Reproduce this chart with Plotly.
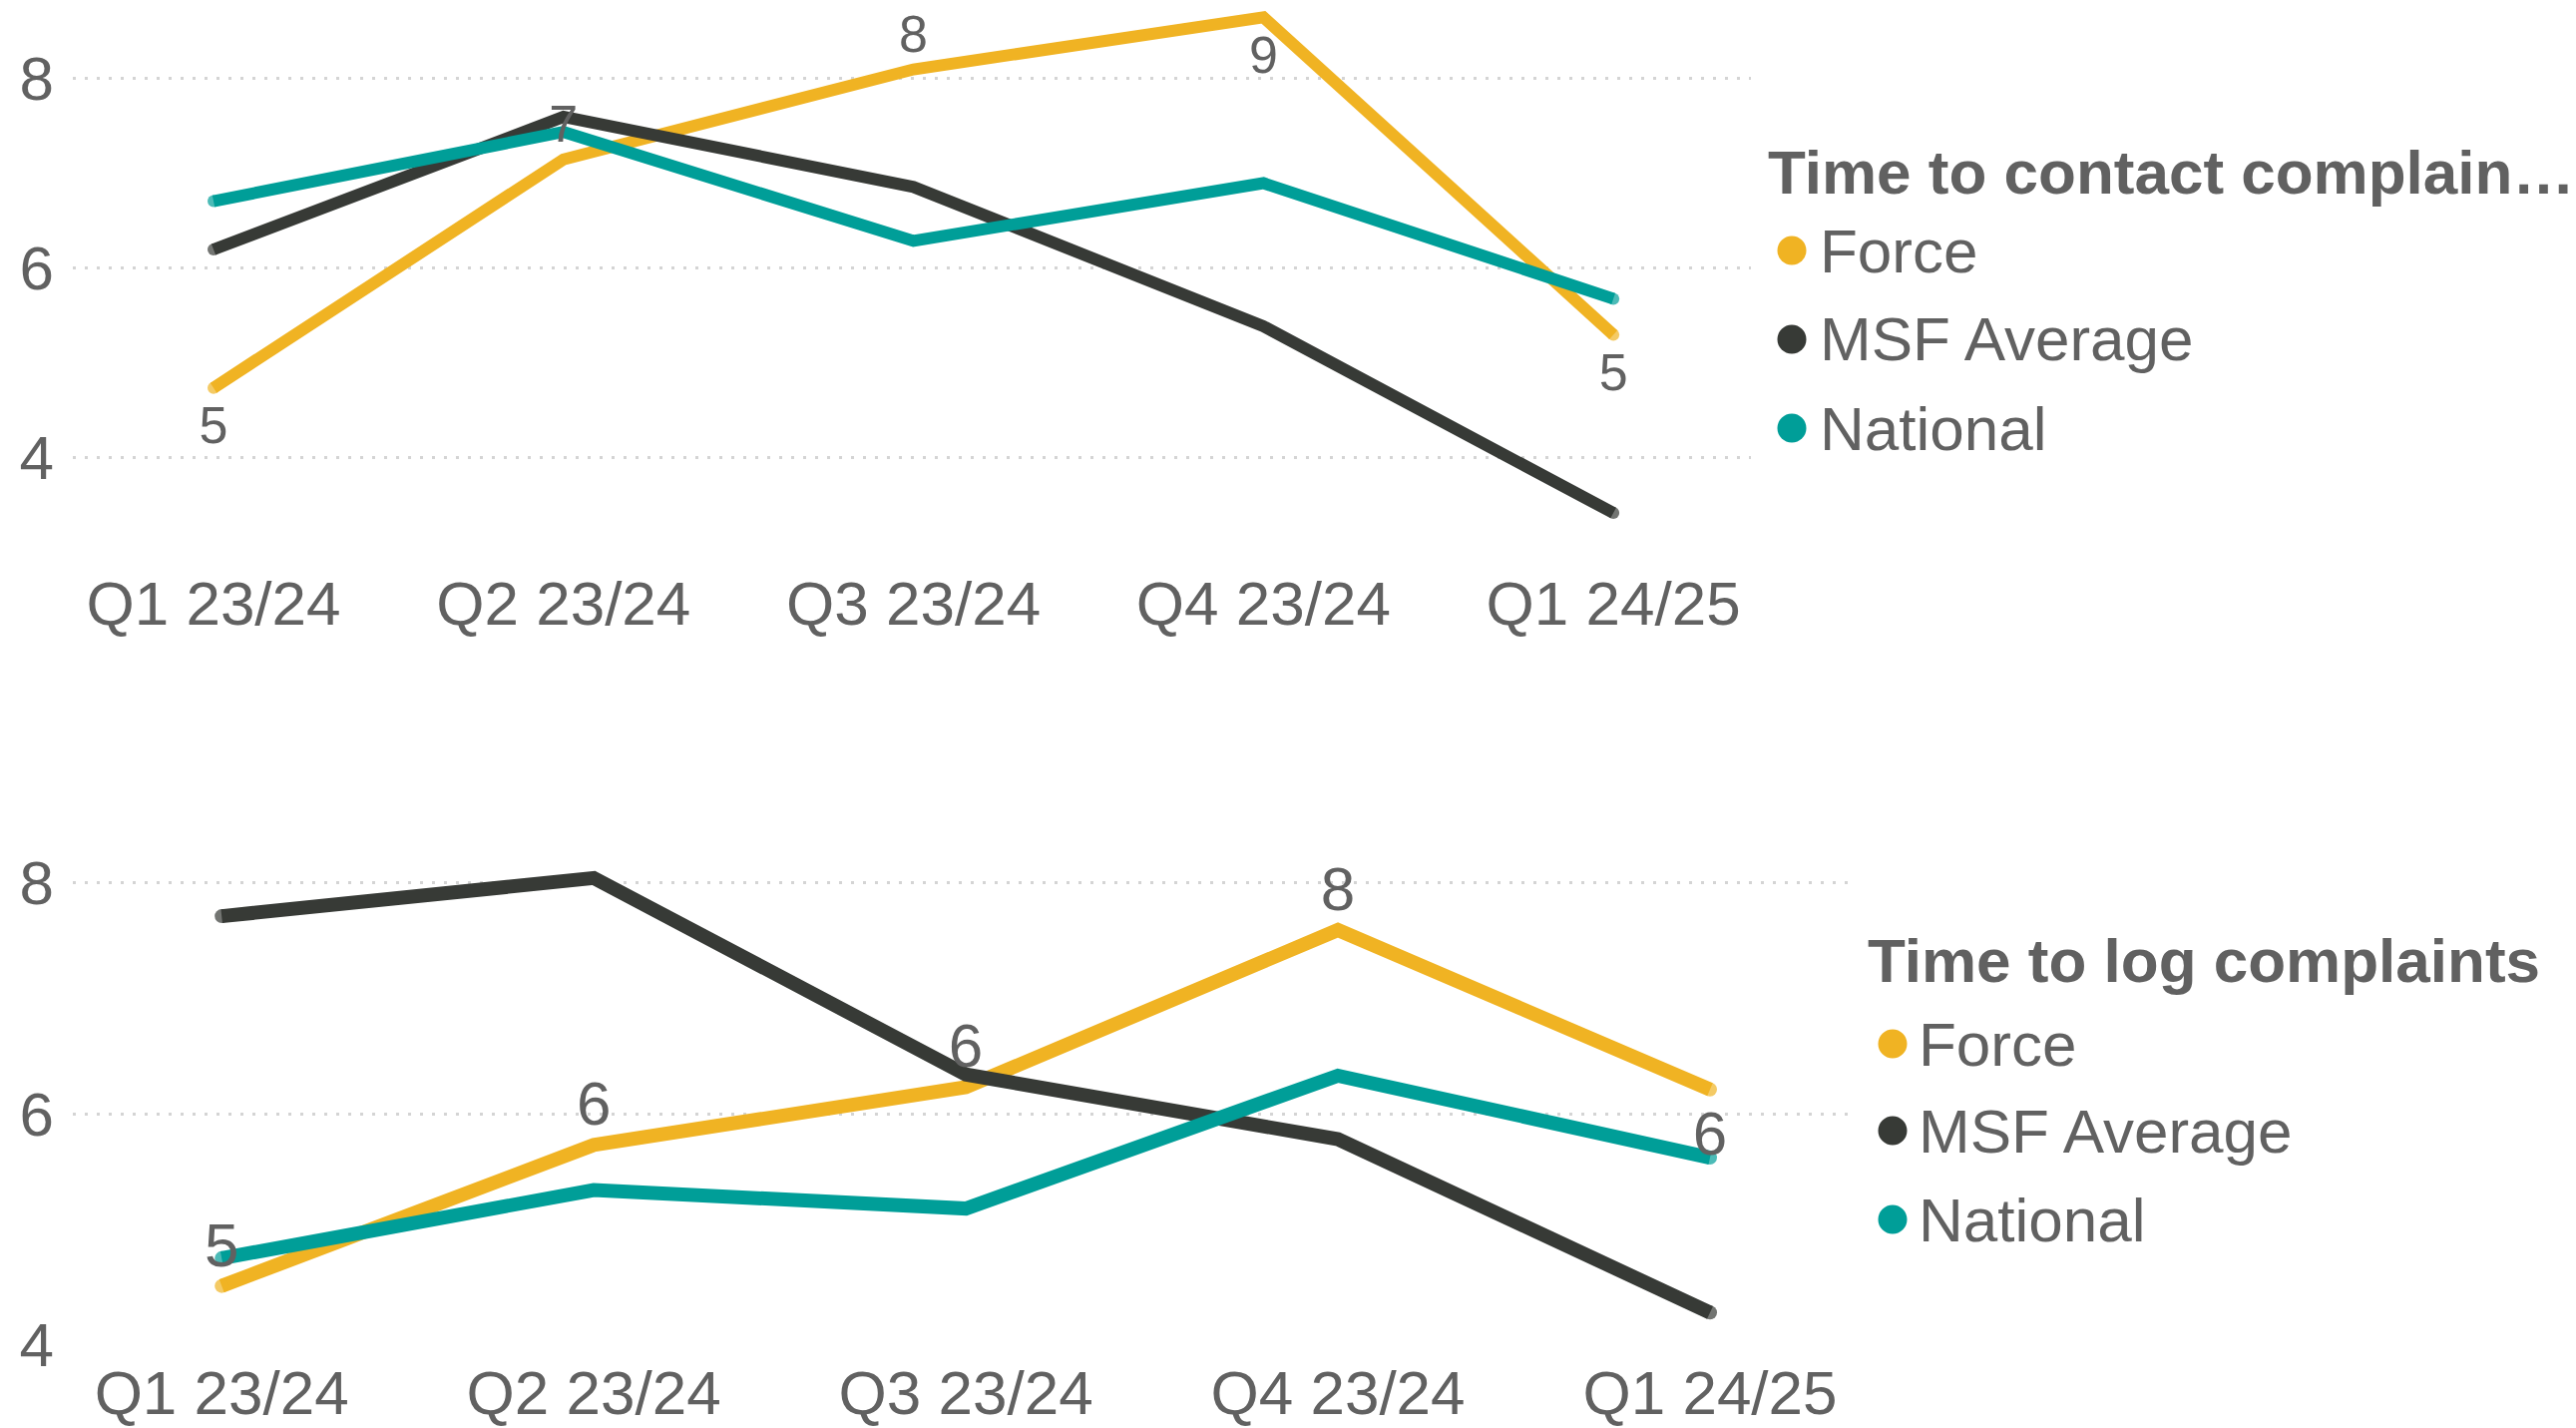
import plotly.graph_objects as go

W, H = 2582, 1431

quarters = ["Q1 23/24", "Q2 23/24", "Q3 23/24", "Q4 23/24", "Q1 24/25"]
series_names = ["Force", "MSF Average", "National"]
series_colors = ["#F0B323", "#373A36", "#009E98"]

# Time to contact complainants (top chart)
contact_force = [4.73, 7.14, 8.09, 8.64, 5.29]
contact_msf = [6.19, 7.59, 6.85, 5.38, 3.41]
contact_national = [6.70, 7.43, 6.28, 6.89, 5.67]
contact_label_pos = ["bottom center", "top center", "top center", "bottom center", "bottom center"]

# Time to log complaints (bottom chart)
log_force = [4.51, 5.73, 6.23, 7.59, 6.21]
log_msf = [7.71, 8.04, 6.34, 5.78, 4.28]
log_national = [4.75, 5.34, 5.18, 6.33, 5.62]
log_label_pos = ["top center", "top center", "top center", "top center", "bottom center"]

legend_titles = ["Time to contact complain\u2026", "Time to log complaints"]

TEXT = "#616161"
FONT = "Arial, Liberation Sans, sans-serif"

fig = go.Figure()


def px_x(p):
    return p / W


def px_y(p):
    return 1 - p / H


def add_chart(xa, ya, data, label_pos, lw, label_size):
    for name, vals, col in zip(series_names, data, series_colors):
        fig.add_trace(go.Scatter(
            x=quarters, y=vals, mode="lines+markers", name=name,
            line=dict(color=col, width=lw),
            marker=dict(size=[lw, 0, 0, 0, lw], color=col, line=dict(width=0)),
            xaxis=xa, yaxis=ya, showlegend=False, hoverinfo="skip"))
    # data labels for Force
    fvals = data[0]
    top_r = 5.0 if label_size < 56 else 4.5
    bot_r = 16.5 if label_size < 56 else 18.5
    sizes = [((bot_r - 1) * 0.8 * 2) if p.startswith("bottom") else ((top_r - 1) * 0.8 * 2)
             for p in label_pos]
    fig.add_trace(go.Scatter(
        x=quarters, y=fvals, mode="markers+text",
        text=[str(int(round(v))) for v in fvals], textposition=label_pos,
        textfont=dict(family=FONT, size=label_size, color=TEXT),
        marker=dict(size=sizes, opacity=0),
        xaxis=xa, yaxis=ya, showlegend=False, hoverinfo="skip"))


add_chart("x", "y", [contact_force, contact_msf, contact_national], contact_label_pos, 12, 52)
add_chart("x2", "y2", [log_force, log_msf, log_national], log_label_pos, 14, 62)

axis_common_x = dict(type="category", showgrid=False, showline=False, zeroline=False,
                     ticks="", automargin=False,
                     tickfont=dict(family=FONT, size=62, color=TEXT))
axis_common_y = dict(showline=False, zeroline=False, ticks="", dtick=2, tick0=0,
                     automargin=False, ticklabelstandoff=18,
                     showgrid=True, gridcolor="#D4D4D4", gridwidth=3, griddash="3px,9px",
                     tickfont=dict(family=FONT, size=62, color=TEXT))

fig.update_layout(
    width=W, height=H,
    margin=dict(l=0, r=0, t=0, b=0, autoexpand=False),
    paper_bgcolor="white", plot_bgcolor="white",
    font=dict(family=FONT, color=TEXT),
    xaxis=dict(axis_common_x, domain=[px_x(73), px_x(1755)], range=[-0.402, 4.393],
               anchor="y", ticklabelstandoff=10),
    yaxis=dict(axis_common_y, domain=[px_y(553), 1.0], range=[3.0, 8.822], anchor="x"),
    xaxis2=dict(axis_common_x, domain=[px_x(73), px_x(1852)], range=[-0.4, 4.37],
                anchor="y2", ticklabelstandoff=6),
    yaxis2=dict(axis_common_y, domain=[px_y(1348.3), px_y(768.7)], range=[3.995, 9.0], anchor="x2"),
)

# Legends (drawn as real text + circle markers)
legend_specs = [
    dict(title_x=1770, title_y=172, mark_x=1796, text_x=1822, item_y=[251, 340, 429]),
    dict(title_x=1870, title_y=962, mark_x=1897, text_x=1921, item_y=[1046, 1133, 1222]),
]
annotations = []
shapes = []
for title, spec in zip(legend_titles, legend_specs):
    annotations.append(dict(
        text="<b>%s</b>" % title, xref="paper", yref="paper",
        x=px_x(spec["title_x"]), y=px_y(spec["title_y"]), xanchor="left", yanchor="middle",
        showarrow=False, font=dict(family=FONT, size=62, color=TEXT)))
    for name, col, iy in zip(series_names, series_colors, spec["item_y"]):
        annotations.append(dict(
            text=name, xref="paper", yref="paper",
            x=px_x(spec["text_x"]), y=px_y(iy), xanchor="left", yanchor="middle",
            showarrow=False, font=dict(family=FONT, size=62, color=TEXT)))
        shapes.append(dict(
            type="circle", xref="paper", yref="paper", xsizemode="pixel", ysizemode="pixel",
            xanchor=px_x(spec["mark_x"]), yanchor=px_y(iy),
            x0=-14.5, x1=14.5, y0=-14.5, y1=14.5,
            fillcolor=col, line=dict(width=0)))

fig.update_layout(annotations=annotations, shapes=shapes)

fig.write_html(
    "out.html",
    config={"displayModeBar": False, "staticPlot": True},
    post_script="document.body.style.margin='0px';document.body.style.overflow='hidden';",
)
